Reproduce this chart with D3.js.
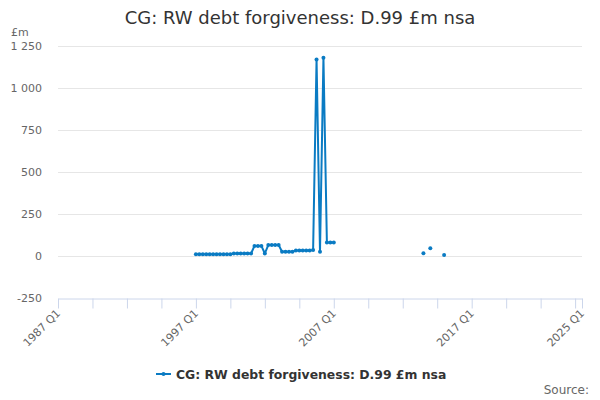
<!DOCTYPE html>
<html>
<head>
<meta charset="utf-8">
<script src="https://cdn.jsdelivr.net/npm/d3@7"></script>
<style>
  body { margin: 0; background: #fff; }
  svg { display: block; font-family: "DejaVu Sans", Verdana, sans-serif; }
</style>
</head>
<body>
<svg id="chart" width="600" height="400"></svg>
<script>
// ---- Data ----
const startYear = 1987;
const endYear = 2025;
const chartTitle = "CG: RW debt forgiveness: D.99 £m nsa";
const seriesName = "CG: RW debt forgiveness: D.99 £m nsa";
const unitLabel = "£m";
const sourceLabel = "Source:";
const yTicks = [-250, 0, 250, 500, 750, 1000, 1250];
const xLabelQuarters = ["1987 Q1", "1997 Q1", "2007 Q1", "2017 Q1", "2025 Q1"];

const obsQuarters = [
  "1997 Q1","1997 Q2","1997 Q3","1997 Q4",
  "1998 Q1","1998 Q2","1998 Q3","1998 Q4",
  "1999 Q1","1999 Q2","1999 Q3","1999 Q4",
  "2000 Q1","2000 Q2","2000 Q3","2000 Q4",
  "2001 Q1","2001 Q2","2001 Q3","2001 Q4",
  "2002 Q1","2002 Q2","2002 Q3","2002 Q4",
  "2003 Q1","2003 Q2","2003 Q3","2003 Q4",
  "2004 Q1","2004 Q2","2004 Q3","2004 Q4",
  "2005 Q1","2005 Q2","2005 Q3","2005 Q4",
  "2006 Q1","2006 Q2","2006 Q3","2006 Q4",
  "2007 Q1",
  "2013 Q3","2014 Q1","2015 Q1"
];
const obsValues = [
  10,10,10,10,
  10,10,10,10,
  10,10,10,15,
  15,15,15,15,
  15,60,60,60,
  15,65,65,65,
  65,25,25,25,
  25,32,32,32,
  32,32,35,1170,
  25,1180,80,80,
  80,
  16,46,6
];

(function () {
// ---- Build categories (all quarters on the axis) ----
const categories = [];
for (let yr = startYear; yr <= endYear; yr++) {
  for (let q = 1; q <= 4; q++) {
    if (yr === endYear && q > 1) break;
    categories.push(yr + " Q" + q);
  }
}
const valueByQ = new Map(obsQuarters.map((q, i) => [q, obsValues[i]]));
const series = categories.map((c, i) => ({ i, c, v: valueByQ.has(c) ? valueByQ.get(c) : null }));

// ---- Layout ----
const svg = d3.select("#chart");
const W = 600;
const mLeft = 58, mRight = 582, mTop = 46, mBottom = 298;
const color = "#0a7bc3";

const x = d3.scaleLinear().domain([0, categories.length - 1]).range([mLeft, mRight]);
const y = d3.scaleLinear().domain([-250, 1250]).range([mBottom, mTop]);

// Title
svg.append("text")
  .attr("x", W / 2).attr("y", 24)
  .attr("text-anchor", "middle")
  .attr("font-size", 18)
  .attr("fill", "#333333")
  .text(chartTitle);

// Gridlines
svg.append("g")
  .selectAll("line")
  .data(yTicks.filter(t => t !== -250))
  .join("line")
  .attr("x1", mLeft).attr("x2", mRight)
  .attr("y1", d => y(d) + 0.5).attr("y2", d => y(d) + 0.5)
  .attr("stroke", "#e6e6e6").attr("stroke-width", 1);

// Y axis labels
const fmt = d => String(Math.abs(d)).replace(/\B(?=(\d{3})+(?!\d))/g, " ").replace(/^/, d < 0 ? "-" : "");
const yAxis = d3.axisLeft(y).tickValues(yTicks).tickSize(0).tickPadding(0).tickFormat(fmt);
const yg = svg.append("g").attr("transform", `translate(${mLeft - 16},0)`).call(yAxis);
yg.select(".domain").remove();
yg.selectAll("text").attr("font-size", 11).attr("fill", "#666666")
  .attr("font-family", "DejaVu Sans, Verdana, sans-serif");

// Unit label
svg.append("text")
  .attr("x", 11).attr("y", 36)
  .attr("font-size", 11).attr("fill", "#666666")
  .text(unitLabel);

// X axis
const tickIdx = d3.range(0, categories.length - 1, 10).concat([categories.length - 1]);
const xAxis = d3.axisBottom(x).tickValues(tickIdx).tickSize(10).tickSizeOuter(0).tickFormat("");
const xg = svg.append("g").attr("transform", `translate(0,${mBottom + 0.5})`).call(xAxis);
xg.select(".domain").attr("stroke", "#ccd6eb");
xg.selectAll(".tick line").attr("stroke", "#ccd6eb");

// X labels (rotated)
const labelIdx = xLabelQuarters.map(q => categories.indexOf(q));
svg.append("g")
  .selectAll("text")
  .data(labelIdx)
  .join("text")
  .attr("transform", d => `translate(${x(d) + 3},${mBottom + 16}) rotate(-45)`)
  .attr("text-anchor", "end")
  .attr("font-size", 11)
  .attr("fill", "#666666")
  .text(d => categories[d]);

// Line
const line = d3.line()
  .defined(d => d.v !== null)
  .x(d => x(d.i))
  .y(d => y(d.v));

svg.append("path")
  .datum(series)
  .attr("fill", "none")
  .attr("stroke", color)
  .attr("stroke-width", 2)
  .attr("stroke-linejoin", "round")
  .attr("d", line);

svg.append("g")
  .selectAll("circle")
  .data(series.filter(d => d.v !== null))
  .join("circle")
  .attr("cx", d => x(d.i))
  .attr("cy", d => y(d.v))
  .attr("r", 2)
  .attr("fill", color);

// Legend
const legend = svg.append("g").attr("transform", "translate(0,374)");
legend.append("line")
  .attr("x1", 156).attr("x2", 171).attr("y1", 0).attr("y2", 0)
  .attr("stroke", color).attr("stroke-width", 2);
legend.append("circle").attr("cx", 163.5).attr("cy", 0).attr("r", 2).attr("fill", color);
legend.append("text")
  .attr("x", 176).attr("y", 4.5)
  .attr("font-size", 12.4).attr("font-weight", "bold")
  .attr("fill", "#333333")
  .text(seriesName);

// Source
svg.append("text")
  .attr("x", 589).attr("y", 394)
  .attr("text-anchor", "end")
  .attr("font-size", 12)
  .attr("fill", "#666666")
  .text(sourceLabel);
})();
</script>
</body>
</html>
